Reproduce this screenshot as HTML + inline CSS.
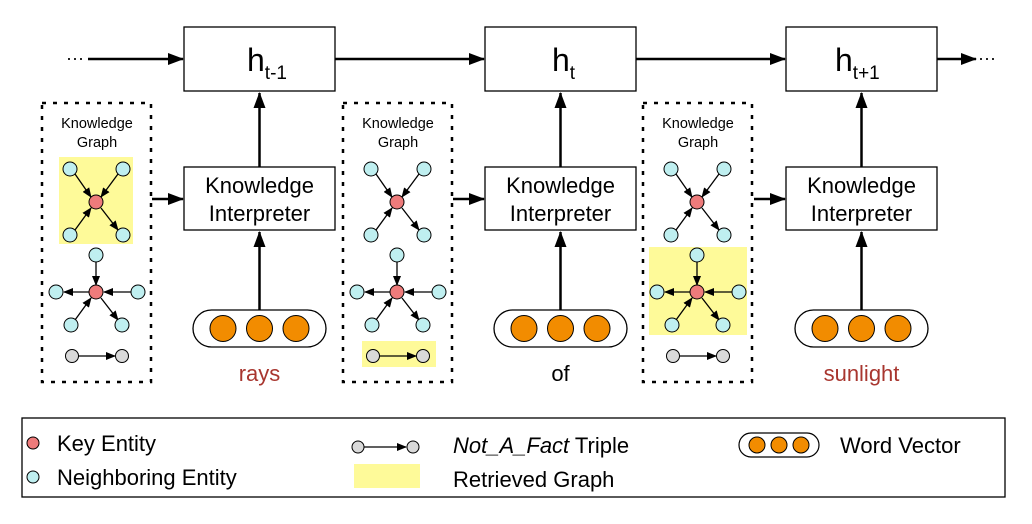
<!DOCTYPE html>
<html><head><style>body{margin:0;background:#fff}svg{display:block}text{font-family:"Liberation Sans",Arial,sans-serif}</style></head><body>
<svg width="1032" height="524" viewBox="0 0 1032 524" xmlns="http://www.w3.org/2000/svg">
<defs>
<marker id="a" markerWidth="10" markerHeight="8" refX="9" refY="4" orient="auto" markerUnits="userSpaceOnUse"><path d="M0,0L10,4L0,8z" fill="#000"/></marker>
<marker id="b" markerWidth="16" markerHeight="12" refX="15" refY="6" orient="auto" markerUnits="userSpaceOnUse"><path d="M0,0L16,6L0,12z" fill="#000"/></marker>
<g id="kg">
<rect x="42" y="103" width="109" height="279" fill="none" stroke="#000" stroke-width="2.5" stroke-dasharray="4,7"/>
<text x="97" y="128" font-size="14.5" text-anchor="middle">Knowledge</text>
<text x="97" y="147" font-size="14.5" text-anchor="middle">Graph</text>
<g stroke="#000" stroke-width="1.3" marker-end="url(#a)">
<line x1="75" y1="174" x2="91" y2="197"/><line x1="118" y1="174" x2="101" y2="197"/>
<line x1="75" y1="230" x2="91" y2="208"/><line x1="101" y1="208" x2="118" y2="230"/>
<line x1="96" y1="262" x2="96" y2="285"/><line x1="89" y1="292" x2="64" y2="292"/>
<line x1="131" y1="292" x2="104" y2="292"/><line x1="75" y1="320" x2="91" y2="298"/>
<line x1="101" y1="298" x2="118" y2="320"/><line x1="78" y1="356" x2="115" y2="356"/>
</g>
<g stroke="#000" stroke-width="1" fill="#bfeff0">
<circle cx="70" cy="169" r="7"/><circle cx="123" cy="169" r="7"/><circle cx="70" cy="235" r="7"/><circle cx="123" cy="235" r="7"/>
<circle cx="96" cy="255" r="7"/><circle cx="56" cy="292" r="7"/><circle cx="138" cy="292" r="7"/><circle cx="71" cy="325" r="7"/><circle cx="122" cy="325" r="7"/>
<circle cx="96" cy="202" r="7" fill="#ee7b7b"/><circle cx="96" cy="292" r="7" fill="#ee7b7b"/>
<circle cx="72" cy="356" r="6.5" fill="#d9d9d9"/><circle cx="122" cy="356" r="6.5" fill="#d9d9d9"/>
</g>
</g>
<g id="col">
<rect x="184" y="27" width="151" height="64" fill="#fff" stroke="#000" stroke-width="1.3"/>
<rect x="184" y="167" width="151" height="63" fill="#fff" stroke="#000" stroke-width="1.3"/>
<text x="259.5" y="193" font-size="22" text-anchor="middle">Knowledge</text>
<text x="259.5" y="221" font-size="22" text-anchor="middle">Interpreter</text>
<rect x="193" y="310" width="133" height="37" rx="18.5" fill="#fff" stroke="#000" stroke-width="1.3"/>
<g fill="#f28c00" stroke="#000" stroke-width="1"><circle cx="223" cy="328.5" r="13"/><circle cx="259.5" cy="328.5" r="13"/><circle cx="296" cy="328.5" r="13"/></g>
<line x1="259.5" y1="310" x2="259.5" y2="232" stroke="#000" stroke-width="2.5" marker-end="url(#b)"/>
<line x1="259.5" y1="167" x2="259.5" y2="93" stroke="#000" stroke-width="2.5" marker-end="url(#b)"/>
<line x1="152" y1="199" x2="183" y2="199" stroke="#000" stroke-width="2.5" marker-end="url(#b)"/>
</g>
</defs>
<rect x="59" y="157" width="74" height="87" fill="#fefa99"/>
<rect x="362" y="341" width="74" height="26" fill="#fefa99"/>
<rect x="649" y="247" width="98" height="88" fill="#fefa99"/>
<use href="#kg"/><use href="#kg" x="301"/><use href="#kg" x="601"/>
<use href="#col"/><use href="#col" x="301"/><use href="#col" x="602"/>
<g stroke="#000" stroke-width="2.5">
<line x1="88" y1="59" x2="183" y2="59" marker-end="url(#b)"/>
<line x1="335" y1="59" x2="484" y2="59" marker-end="url(#b)"/>
<line x1="636" y1="59" x2="785" y2="59" marker-end="url(#b)"/>
<line x1="937" y1="59" x2="976" y2="59" marker-end="url(#b)"/>
</g>
<text x="66" y="64" font-size="18">···</text>
<text x="978" y="64" font-size="18">···</text>
<text x="247" y="71" font-size="32">h<tspan font-size="19" dy="8">t-1</tspan></text>
<text x="552" y="71" font-size="32">h<tspan font-size="19" dy="8">t</tspan></text>
<text x="835" y="71" font-size="32">h<tspan font-size="19" dy="8">t+1</tspan></text>
<text x="259.5" y="381" font-size="22" text-anchor="middle" fill="#a8362f">rays</text>
<text x="560.5" y="381" font-size="22" text-anchor="middle">of</text>
<text x="861.5" y="381" font-size="22" text-anchor="middle" fill="#a8362f">sunlight</text>
<rect x="22" y="418" width="983" height="79" fill="#fff" stroke="#000" stroke-width="1.3"/>
<circle cx="33" cy="443" r="6" fill="#ee7b7b" stroke="#000"/>
<circle cx="33" cy="477" r="6" fill="#bfeff0" stroke="#000"/>
<text x="57" y="451" font-size="22">Key Entity</text>
<text x="57" y="485" font-size="22">Neighboring Entity</text>
<circle cx="358" cy="447" r="6" fill="#d9d9d9" stroke="#000"/>
<circle cx="413" cy="447" r="6" fill="#d9d9d9" stroke="#000"/>
<line x1="364" y1="447" x2="406" y2="447" stroke="#000" stroke-width="1.3" marker-end="url(#a)"/>
<rect x="354" y="464" width="66" height="24" fill="#fefa99"/>
<text x="453" y="453" font-size="22"><tspan font-style="italic">Not_A_Fact</tspan> Triple</text>
<text x="453" y="487" font-size="22">Retrieved Graph</text>
<rect x="739" y="433" width="80" height="24" rx="12" fill="#fff" stroke="#000" stroke-width="1.2"/>
<g fill="#f28c00" stroke="#000"><circle cx="757" cy="445" r="8"/><circle cx="779" cy="445" r="8"/><circle cx="801" cy="445" r="8"/></g>
<text x="840" y="453" font-size="22">Word Vector</text>
</svg>
</body></html>
